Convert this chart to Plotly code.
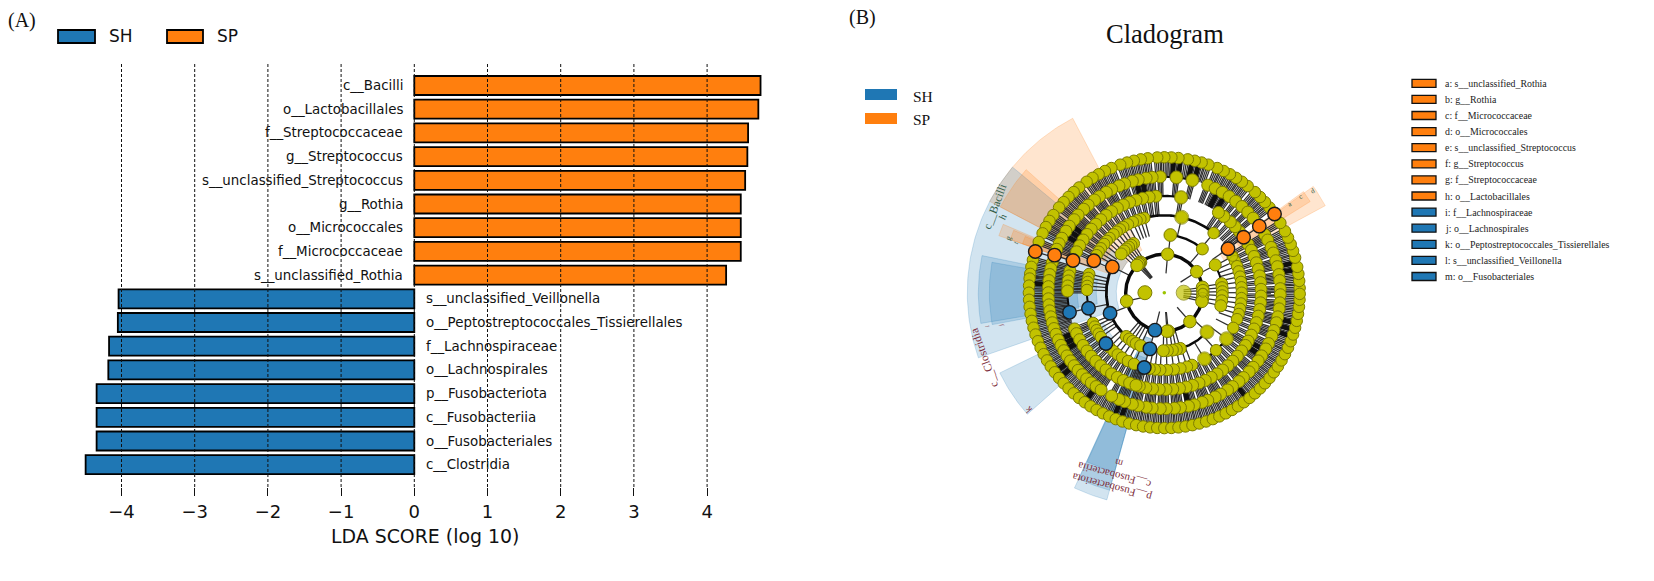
import math
import plotly.graph_objects as go

W, H = 1654, 581

# ---------- Panel A data ----------
sp_taxa = ["c__Bacilli", "o__Lactobacillales", "f__Streptococcaceae", "g__Streptococcus",
           "s__unclassified_Streptococcus", "g__Rothia", "o__Micrococcales", "f__Micrococcaceae",
           "s__unclassified_Rothia"]
sp_scores = [4.73, 4.70, 4.56, 4.55, 4.52, 4.46, 4.46, 4.46, 4.26]
sh_taxa = ["s__unclassified_Veillonella", "o__Peptostreptococcales_Tissierellales", "f__Lachnospiraceae",
           "o__Lachnospirales", "p__Fusobacteriota", "c__Fusobacteriia", "o__Fusobacteriales", "c__Clostridia"]
sh_scores = [-4.04, -4.05, -4.17, -4.18, -4.34, -4.34, -4.34, -4.49]
x_ticks = [-4, -3, -2, -1, 0, 1, 2, 3, 4]

# ---------- Panel B data ----------
legend_taxa = ["a: s__unclassified_Rothia", "b: g__Rothia", "c: f__Micrococcaceae", "d: o__Micrococcales",
               "e: s__unclassified_Streptococcus", "f: g__Streptococcus", "g: f__Streptococcaceae",
               "h: o__Lactobacillales", "i: f__Lachnospiraceae", "j: o__Lachnospirales",
               "k: o__Peptostreptococcales_Tissierellales", "l: s__unclassified_Veillonella",
               "m: o__Fusobacteriales"]
legend_groups = ["SP"] * 8 + ["SH"] * 5

ring_radii = [19.4, 38.6, 58, 77.4, 96.8, 116, 135.4]
ring_sizes = [14, 12.5, 12, 11.5, 12, 12, 11.5]
ring_angles = [
    [180],
    [85, 33, 192.6, 311.5, 276, 8, 3, -3, -9, -13, 128, 130, 132, 135, 274],
    [84, 49, 28.6, 317.4, 9, 5, 1, -3, -8, -13, 229, 233, 237, 241, 246, 286, 282, 278, 273, 269,
     122, 125, 128, 131, 134, 138],
    [77, 50.4, 28, 24, 20, 16, 12, 8, 4, 0, -4, -8, -12, -16, -20, -27, -36.5, -48, -58.7, -69, -73, -78,
     -83, -88, -93, -97, -101, 105, 108, 111, 114, 118, 122, 125, 128, 131, 135, 138, 141, 145, 148, 151,
     166, 169, 172, 175, 178, 203, 206, 209, 212, 215, 225, 229, 233, 237, 242, 247],
    [80, 30, 26, 22, 18, 14, 10, 6, 2, -2, -6, -10, -14, -18, -22, -26, -30, -33, -37, -41, -45, -49, -53, -57,
     -61, -65, -69, -73, -77, -81, -85, -89, -93, -97, -101, -105, -109, 95, 99, 103, 107, 111, 115, 119, 123,
     127, 131, 135, 139, 143, 147, 151, 155, 167, 170, 173, 176, 179, 202, 205, 209, 213, 217, 221, 225,
     229, 233, 237, 241, 245, 249, 253, 36, 39, 43, 47, 52, 56],
    [84, 76, 68, 64, 60, 56, 52, 48, 44, 40, 30, 27, 23, 20, 16, 13, 9, 6, 2, -1, -5, -8, -12, -15, -19, -22, -26,
     -29, -33, -36, -40, -43, -47, -50, -54, -57, -61, -64, -68, -71, -75, -78, -82, -85, -89, -92, -96, -99,
     -103, -106, -110, -113, -117, 92, 96, 99, 103, 106, 110, 113, 117, 120, 124, 127, 131, 134, 138, 141,
     145, 148, 152, 155, 158, 165, 168, 171, 174, 177, 180, 183, 186, 189, 192, 195, 198, 201, 204, 207,
     210, 213, 216, 219, 222, 225, 228, 231, 234, 237],
    [2, 5, 8, 11, 15, 18, 21, 24, 27, 31, 39, 42, 45, 48, 52, 55, 58, 61, 64, 67, 71, 74, 77, 80, 84, 87, 90,
     93, 97, 100, 103, 106, 109, 113, 116, 119, 122, 125, 129, 132, 135, 138, 141, 145, 148, 151, 154, 158,
     166, 169, 172, 174, 177, 180, 183, 186, 189, 192, 195, 198, 201, 204, 207, 210, 213, 216, 219, 222, 225,
     228, 231, 234, 237, 240, 243, 246, 249, 252, 255, 258, 261, 264, 267, 270, 273, 276, 279, 282, 285, 288,
     291, 294, 297, 300, 303, 306, 309, 312, 315, 318, 321, 324, 327, 330, 333, 336, 339, 342, 345, 348, 351,
     354, 357, 359.5],
]
large_nodes_ring = [1, 0, 2, 3, 3, 3, 2, 3, 4, 5, 5]
large_nodes_angle = [0, 0, -42.6, -36.5, -58.7, 77, 84, 28, 80, 76, 84]
large_nodes_size = [9, 15, 14, 14, 14, 14, 13, 10, 13.5, 13, 13]

sp_node_ring = [6, 5, 4, 3, 2, 6, 5, 4, 3]
sp_node_angle = [162.3, 161.1, 160.6, 155.6, 153.6, 35.5, 35, 35, 34.6]
sh_node_ring = [2, 3, 4, 3, 1, 2, 3]
sh_node_angle = [200.8, 191.6, 191.7, 221, 256, 255.6, 255]

dark_ring = [6, 6, 6, 6, 6, 6, 5, 5, 5, 5, 5, 5, 5, 6, 6, 6, 6, 5, 5, 5, 6, 6, 6, 6, 5, 5, 5, 6, 6]
dark_angle = [86, 83, 78, 75, 10, 13, 101, 104, 58, 62, 147, 150, 144, -13, -16, -19, 234, 204, 207, 210,
              248, 251, 219, 216, -30, -33, -78, -52, 176]

wedge_group = ["SP", "SH", "SP", "SP", "SP", "SP", "SH", "SH", "SH", "SH", "SH", "SH", "SP", "SP"]
wedge_from = [117.7, 140.4, 138.3, 157, 157.5, 158, 168.5, 170, 206, 245.3, 245.3, 245.5, 28.4, 32]
wedge_to = [152.4, 199.3, 152.4, 161, 161, 161, 189.5, 190.5, 221.6, 254.5, 254.5, 254.5, 35.5, 36]
wedge_in = [48, 48, 68, 58, 78, 97, 68, 87, 68, 48, 48, 68, 68, 88]
wedge_out = [197, 197, 185, 175, 163, 150, 186, 175, 183, 215, 205, 186, 183, 172]

CX, CY = 1164.3, 292.7
BLUE, ORANGE, YEL, YEL_EDGE = "#1f77b4", "#ff7f0e", "#c2c200", "#7c7c00"
SERIF, SANS = "Liberation Serif", "DejaVu Sans"
ZERO, UNIT = 414.3, 73.2
TOP, STEP = 85.5, 23.7
AX_TOP, AX_BOTTOM = 63, 487


def polar(r, deg):
    a = math.radians(deg)
    return r * math.cos(a), r * math.sin(a)


fig = go.Figure()

# ---------- Panel A ----------
sp_pos = list(range(len(sp_taxa)))
sh_pos = [len(sp_taxa) + i for i in range(len(sh_taxa))]
bar_line = dict(color="black", width=1.8)
fig.add_trace(go.Bar(y=sh_pos, x=sh_scores, orientation="h", width=0.8, name="SH",
                     marker=dict(color=BLUE, line=bar_line), showlegend=False, xaxis="x", yaxis="y"))
fig.add_trace(go.Bar(y=sp_pos, x=sp_scores, orientation="h", width=0.8, name="SP",
                     marker=dict(color=ORANGE, line=bar_line), showlegend=False, xaxis="x", yaxis="y"))

annotations = []
shapes = []


def text(x, y, s, size, font=SERIF, color="black", anchor="center", angle=0):
    annotations.append(dict(xref="paper", yref="paper", x=x / W, y=1 - y / H, text=s, showarrow=False,
                            xanchor=anchor, yanchor="middle", textangle=angle,
                            font=dict(family=font, size=size, color=color), borderpad=0, borderwidth=0))


def box(x0, y0, x1, y1, fill, line=None, width=0):
    shapes.append(dict(type="rect", xref="paper", yref="paper", x0=x0 / W, x1=x1 / W,
                       y0=1 - y1 / H, y1=1 - y0 / H, fillcolor=fill,
                       line=dict(color=line or fill, width=width)))


for pos, name in zip(sp_pos, sp_taxa):
    annotations.append(dict(xref="x", yref="y", x=-0.127, y=pos, text=name, showarrow=False, xanchor="right",
                            yanchor="middle", font=dict(family=SANS, size=13.4, color="#111")))
for pos, name in zip(sh_pos, sh_taxa):
    annotations.append(dict(xref="x", yref="y", x=0.127, y=pos, text=name, showarrow=False, xanchor="left",
                            yanchor="middle", font=dict(family=SANS, size=13.4, color="#111")))
for t in x_ticks:
    shapes.append(dict(type="line", xref="x", yref="paper", x0=t, x1=t, y0=1 - AX_BOTTOM / H, y1=1 - AX_TOP / H,
                       layer="above", line=dict(color="#111", width=1, dash="3px,2px")))

box(58, 30, 95, 43, BLUE, "black", 1.8)
box(167, 30, 203, 43, ORANGE, "black", 1.8)
text(109, 36.5, "SH", 17, SANS, "#111", "left")
text(217, 36.5, "SP", 17, SANS, "#111", "left")
text(8, 20, "(A)", 20, SERIF, "#111", "left")
text(425, 536, "LDA SCORE (log 10)", 18.9, SANS, "#111")

# ---------- Panel B ----------
for grp, a0, a1, r0, r1 in zip(wedge_group, wedge_from, wedge_to, wedge_in, wedge_out):
    steps = max(2, int(abs(a1 - a0)) + 1)
    angs = [a0 + (a1 - a0) * i / steps for i in range(steps + 1)]
    pts = [polar(r1, a) for a in angs] + [polar(r0, a) for a in reversed(angs)]
    pts.append(pts[0])
    rgb = "31,119,180" if grp == "SH" else "255,127,14"
    fig.add_trace(go.Scatter(x=[p[0] for p in pts], y=[p[1] for p in pts], mode="lines", fill="toself",
                             fillcolor=f"rgba({rgb},0.2)", line=dict(color=f"rgba({rgb},0.2)", width=1),
                             hoverinfo="skip", showlegend=False, xaxis="x2", yaxis="y2"))

# branches: each node is joined to the ring inside it by a fan of thin spokes
sx, sy = [], []
for ring, angles in enumerate(ring_angles):
    if ring == 0:
        continue
    fan = [-1.2, -0.4, 0.4, 1.2] if ring >= 5 else ([-1.1, 0, 1.1] if ring == 4 else [0])
    for a in angles:
        for off in fan:
            p0 = polar(ring_radii[ring - 1], a + off)
            p1 = polar(ring_radii[ring], a + off)
            sx += [p0[0], p1[0], None]
            sy += [p0[1], p1[1], None]
for ring, a in zip(sp_node_ring + sh_node_ring, sp_node_angle + sh_node_angle):
    p0 = polar(ring_radii[ring - 1], a)
    p1 = polar(ring_radii[ring], a)
    sx += [p0[0], p1[0], None]
    sy += [p0[1], p1[1], None]
fig.add_trace(go.Scatter(x=sx, y=sy, mode="lines", line=dict(color="#2e2e2e", width=1.25), hoverinfo="skip",
                         showlegend=False, xaxis="x2", yaxis="y2"))
dx, dy = [], []
for ring, a in zip(dark_ring, dark_angle):
    p0 = polar(ring_radii[ring - 1], a)
    p1 = polar(ring_radii[ring], a)
    dx += [p0[0], p1[0], None]
    dy += [p0[1], p1[1], None]
fig.add_trace(go.Scatter(x=dx, y=dy, mode="lines", line=dict(color="#101010", width=5), hoverinfo="skip",
                         showlegend=False, xaxis="x2", yaxis="y2"))

arc_ring = [1, 2, 2, 2, 2, 3, 3, 3, 4, 5, 3, 4]
arc_from = [0, 153, 49, -74, -14, 50, -58.7, 164, 80, 76, 191, 176]
arc_to = [360, 229, 84, -42, 29, 105, -36.5, 192, 100, 92, 222, 192]
arc_width = [3.4, 2.8, 2.4, 2.4, 2, 2.6, 2.2, 2, 2.2, 2, 2, 2]
for ring, a0, a1, w in zip(arc_ring, arc_from, arc_to, arc_width):
    n = int(a1 - a0)
    pts = [polar(ring_radii[ring], a0 + (a1 - a0) * i / n) for i in range(n + 1)]
    fig.add_trace(go.Scatter(x=[p[0] for p in pts], y=[p[1] for p in pts], mode="lines",
                             line=dict(color="#0a0a0a", width=w), hoverinfo="skip",
                             showlegend=False, xaxis="x2", yaxis="y2"))

node_edge = dict(color=YEL_EDGE, width=1)
for ring in range(len(ring_radii) - 1, -1, -1):
    pts = [polar(ring_radii[ring], a) for a in ring_angles[ring]]
    fig.add_trace(go.Scatter(x=[p[0] for p in pts], y=[p[1] for p in pts], mode="markers",
                             marker=dict(color=YEL, size=ring_sizes[ring], line=node_edge), hoverinfo="skip",
                             showlegend=False, xaxis="x2", yaxis="y2"))
pts = [polar(ring_radii[r], a) for r, a in zip(large_nodes_ring, large_nodes_angle)]
fig.add_trace(go.Scatter(x=[p[0] for p in pts], y=[p[1] for p in pts], mode="markers",
                         marker=dict(color=YEL, size=large_nodes_size, line=node_edge),
                         hoverinfo="skip", showlegend=False, xaxis="x2", yaxis="y2"))
fig.add_trace(go.Scatter(x=[0], y=[0], mode="markers", marker=dict(color="#9cc400", size=3.5), hoverinfo="skip",
                         showlegend=False, xaxis="x2", yaxis="y2"))
for rings, angles, col in [(sh_node_ring, sh_node_angle, BLUE), (sp_node_ring, sp_node_angle, ORANGE)]:
    pts = [polar(ring_radii[r], a) for r, a in zip(rings, angles)]
    fig.add_trace(go.Scatter(x=[p[0] for p in pts], y=[p[1] for p in pts], mode="markers",
                             marker=dict(color=col, size=13.5, line=dict(color="#1a1a1a", width=1.4)),
                             hoverinfo="skip", showlegend=False, xaxis="x2", yaxis="y2"))

text(862, 18, "(B)", 20, SERIF, "#111")
text(1165, 34, "Cladogram", 26.5, SERIF, "#111")
box(865, 89, 897, 100, BLUE)
box(865, 113, 897, 124, ORANGE)
text(913, 96, "SH", 15.5, SERIF, "#111", "left")
text(913, 119, "SP", 15.5, SERIF, "#111", "left")

for i, (name, grp) in enumerate(zip(legend_taxa, legend_groups)):
    yc = 83.3 + 16.1 * i
    box(1412, yc - 4, 1436, yc + 4, BLUE if grp == "SH" else ORANGE, "#111", 1.3)
    text(1445, yc, name, 9.9, SERIF, "#222", "left")

GREEN, RED = "#2f5b45", "#7d2c3a"
text(994.3, 206.7, "c__Bacilli", 11.5, SERIF, GREEN, angle=-70)
text(1002, 217, "h", 10, SERIF, GREEN, angle=-65)
text(1008, 238, "g", 8, SERIF, GREEN, angle=-65)
text(1016, 243, "f", 6, SERIF, GREEN, angle=-65)
text(984, 358, "c__Clostridia", 11.5, SERIF, RED, angle=-110)
text(987, 326, "i", 6, SERIF, RED, angle=-100)
text(1001, 326, "j", 6, SERIF, RED, angle=-100)
text(1027.7, 410, "k", 10, SERIF, RED, angle=-130)
text(1118.3, 463.3, "m", 10, SERIF, RED, angle=-165)
text(1115, 475.3, "c__Fusobacteriia", 11, SERIF, RED, angle=-165)
text(1111.7, 487.7, "p__Fusobacteriota", 11, SERIF, RED, angle=-165)
text(1290, 204, "a", 7, SERIF, GREEN, angle=-30)
text(1300, 197, "c", 7, SERIF, GREEN, angle=-30)
text(1313, 191, "d", 7, SERIF, GREEN, angle=-30)

fig.update_layout(
    width=W, height=H, autosize=False, margin=dict(l=0, r=0, t=0, b=0), paper_bgcolor="white",
    plot_bgcolor="rgba(0,0,0,0)", showlegend=False, barmode="overlay",
    annotations=annotations, shapes=shapes,
    xaxis=dict(domain=[60 / W, 790 / W], range=[(60 - ZERO) / UNIT, (790 - ZERO) / UNIT], tickvals=x_ticks,
               ticks="outside", ticklen=8, tickwidth=1, tickcolor="#111", showgrid=False, zeroline=False,
               showline=False, tickfont=dict(family=SANS, size=18, color="#111"), anchor="y"),
    yaxis=dict(domain=[1 - AX_BOTTOM / H, 1 - AX_TOP / H],
               range=[(AX_BOTTOM - TOP) / STEP, (AX_TOP - TOP) / STEP],
               visible=False, anchor="x"),
    xaxis2=dict(domain=[0, 1], range=[-CX, W - CX], visible=False, anchor="y2"),
    yaxis2=dict(domain=[0, 1], range=[CY - H, CY], visible=False, anchor="x2"),
)

fig.write_html("out.html", config={"displayModeBar": False},
               post_script="document.body.style.margin='0';document.documentElement.style.overflow='hidden';")
